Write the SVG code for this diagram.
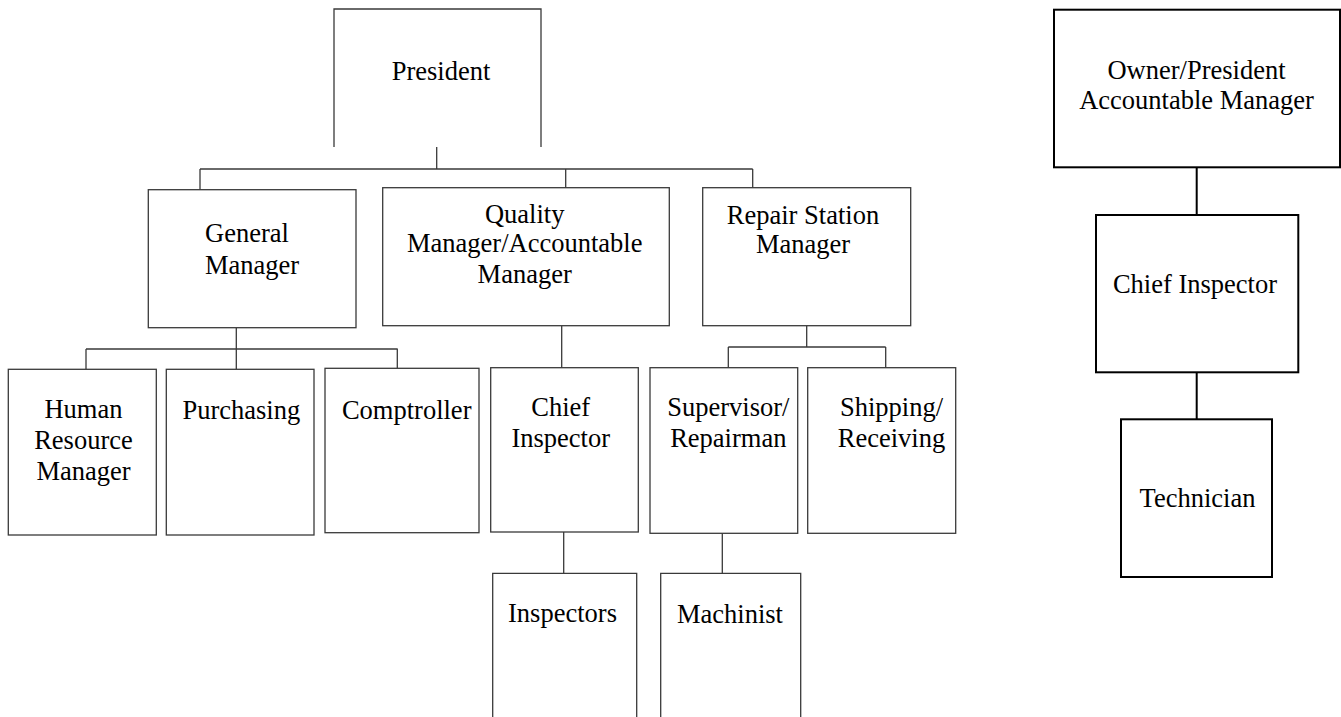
<svg xmlns="http://www.w3.org/2000/svg" width="1341" height="717" viewBox="0 0 1341 717">
<style>
  .bx{fill:#fff;stroke:#3a3a3a;stroke-width:1.3}
  .bx2{fill:#fff;stroke:#000;stroke-width:2}
  .ln{fill:none;stroke:#3a3a3a;stroke-width:1.3}
  .ln2{fill:none;stroke:#000;stroke-width:2}
  text{font-family:"Liberation Serif","Times New Roman",serif;font-size:26.5px;fill:#000}
  .c{text-anchor:middle}
</style>
<rect width="1341" height="717" fill="#fff"/>
<g id="connectors">
  <path class="ln" d="M436.7,147V169M200,169H752.7M200,169V190M565.7,169V188M752.7,169V188"/>
  <path class="ln" d="M236.3,328V369M86,349H397.7M86,349V369M397.3,349V368"/>
  <path class="ln" d="M561.7,326V368M563.7,532V573.3"/>
  <path class="ln" d="M806.7,326V347M728.3,347H885.7M728.3,347V368M885.7,347V368M722.3,533V573.3"/>
  <path class="ln2" d="M1196.7,167V215M1196.7,372V419.3"/>
</g>
<g id="president">
  <path class="ln" d="M334,147V9H541V147"/>
  <text class="c" x="441" y="80">President</text>
</g>
<g id="general-manager">
  <rect class="bx" x="148.3" y="189.7" width="207.7" height="138"/>
  <text x="205" y="242">General</text>
  <text x="205" y="274">Manager</text>
</g>
<g id="quality-manager">
  <rect class="bx" x="382.7" y="187.7" width="286.6" height="138"/>
  <text class="c" x="524.7" y="223.3">Quality</text>
  <text class="c" x="524.7" y="252">Manager/Accountable</text>
  <text class="c" x="524.7" y="283.3">Manager</text>
</g>
<g id="repair-station-manager">
  <rect class="bx" x="702.7" y="187.7" width="208" height="138"/>
  <text class="c" x="803" y="224">Repair Station</text>
  <text class="c" x="803" y="253">Manager</text>
</g>
<g id="human-resource">
  <rect class="bx" x="8.3" y="369.3" width="148" height="165.7"/>
  <text class="c" x="83.5" y="418.3">Human</text>
  <text class="c" x="83.5" y="449.3">Resource</text>
  <text class="c" x="83.5" y="480">Manager</text>
</g>
<g id="purchasing">
  <rect class="bx" x="166.3" y="369.3" width="147.7" height="165.7"/>
  <text class="c" x="241.3" y="419.3">Purchasing</text>
</g>
<g id="comptroller">
  <rect class="bx" x="325" y="368.3" width="154" height="164.4"/>
  <text class="c" x="406.7" y="419.3">Comptroller</text>
</g>
<g id="chief-inspector">
  <rect class="bx" x="490.7" y="367.7" width="147.6" height="164.3"/>
  <text class="c" x="560.7" y="415.7">Chief</text>
  <text class="c" x="560.7" y="446.7">Inspector</text>
</g>
<g id="supervisor">
  <rect class="bx" x="650" y="367.7" width="147.7" height="165.6"/>
  <text class="c" x="728.3" y="415.7">Supervisor/</text>
  <text class="c" x="728.3" y="446.7">Repairman</text>
</g>
<g id="shipping">
  <rect class="bx" x="807.7" y="367.7" width="148" height="165.6"/>
  <text class="c" x="891.5" y="415.7">Shipping/</text>
  <text class="c" x="891.5" y="446.7">Receiving</text>
</g>
<g id="inspectors">
  <path class="ln" d="M492.7,720V573.3H636.7V720"/>
  <text class="c" x="562.5" y="621.7">Inspectors</text>
</g>
<g id="machinist">
  <path class="ln" d="M660.7,720V573.3H800.7V720"/>
  <text class="c" x="730" y="622.7">Machinist</text>
</g>
<g id="owner-president">
  <rect class="bx2" x="1054" y="9.7" width="286" height="157.6"/>
  <text class="c" x="1196.5" y="79">Owner/President</text>
  <text class="c" x="1196.5" y="109">Accountable Manager</text>
</g>
<g id="chief-inspector-right">
  <rect class="bx2" x="1096" y="215" width="202.3" height="157.3"/>
  <text class="c" x="1195" y="293.3">Chief Inspector</text>
</g>
<g id="technician">
  <rect class="bx2" x="1121" y="419.3" width="151" height="157.7"/>
  <text class="c" x="1197.5" y="506.7">Technician</text>
</g>
</svg>
